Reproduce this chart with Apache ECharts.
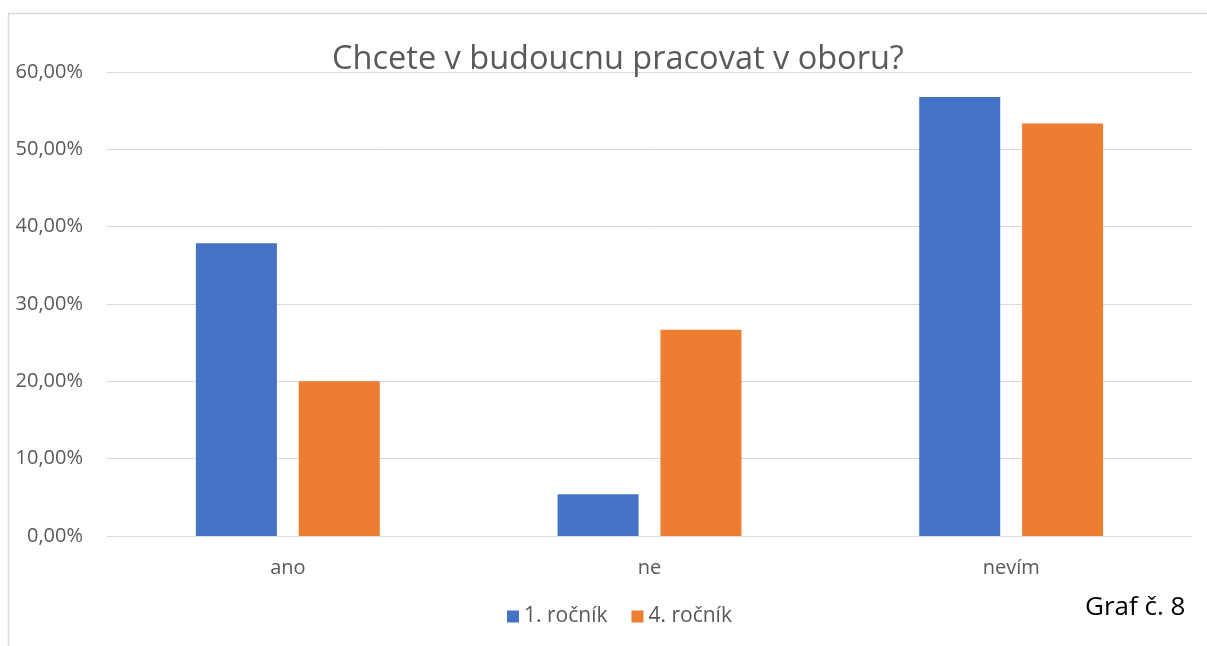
<!DOCTYPE html>
<html><head><meta charset="utf-8">
<script src="https://cdn.jsdelivr.net/npm/echarts@6/dist/echarts.min.js"></script>
<style>html,body{margin:0;padding:0;background:#fff}#c{width:1207px;height:646px}</style>
</head><body><div id="c"></div>
<script>
const categories = ['ano', 'ne', 'nevím'];
const series1Name = '1. ročník';
const series2Name = '4. ročník';
const series1 = [37.84, 5.41, 56.76];
const series2 = [20.00, 26.67, 53.33];
const titleText = 'Chcete v budoucnu pracovat v oboru?';
const noteText = 'Graf č. 8';

const font = '"Open Sans", "Noto Sans", sans-serif';
const chart = echarts.init(document.getElementById('c'), null, {renderer: 'canvas'});
chart.setOption({
  animation: false,
  backgroundColor: '#fff',
  title: {
    text: titleText, left: 613, textAlign: 'center', top: 38,
    textStyle: {fontFamily: font, fontSize: 32.5, fontWeight: 'normal', color: '#595959'}
  },
  graphic: [
    {type: 'polyline', shape: {points: [[8.5, 646], [8.5, 13.5], [1207, 13.5]]},
     style: {stroke: '#d9d9d9', lineWidth: 1.5, fill: null}, silent: true},
    {type: 'text', left: 1085, top: 595,
     style: {text: noteText, fontFamily: font, fontSize: 26, fill: '#000'}}
  ],
  legend: {
    data: [series1Name, series2Name], left: 502, top: 601,
    itemWidth: 12, itemHeight: 12, itemGap: 24, icon: 'rect',
    textStyle: {fontFamily: font, fontSize: 21, color: '#595959'}
  },
  grid: {left: 107, right: 15, top: 72, bottom: 110, containLabel: false},
  xAxis: {
    type: 'category', data: categories,
    axisLine: {lineStyle: {color: '#d9d9d9', width: 1}},
    axisTick: {show: false},
    axisLabel: {fontFamily: font, fontSize: 20, color: '#595959', margin: 22}
  },
  yAxis: {
    type: 'value', min: 0, max: 60, interval: 10,
    axisLine: {show: false}, axisTick: {show: false},
    splitLine: {lineStyle: {color: '#d9d9d9', width: 1}},
    axisLabel: {fontFamily: font, fontSize: 20, color: '#595959', margin: 24,
      formatter: v => v.toFixed(2).replace('.', ',') + '%'}
  },
  series: [
    {name: series1Name, type: 'bar', data: series1, barWidth: 81, barGap: '27%',
     itemStyle: {color: '#4472c4'}},
    {name: series2Name, type: 'bar', data: series2, barWidth: 81,
     itemStyle: {color: '#ed7d31'}}
  ]
});
</script></body></html>
